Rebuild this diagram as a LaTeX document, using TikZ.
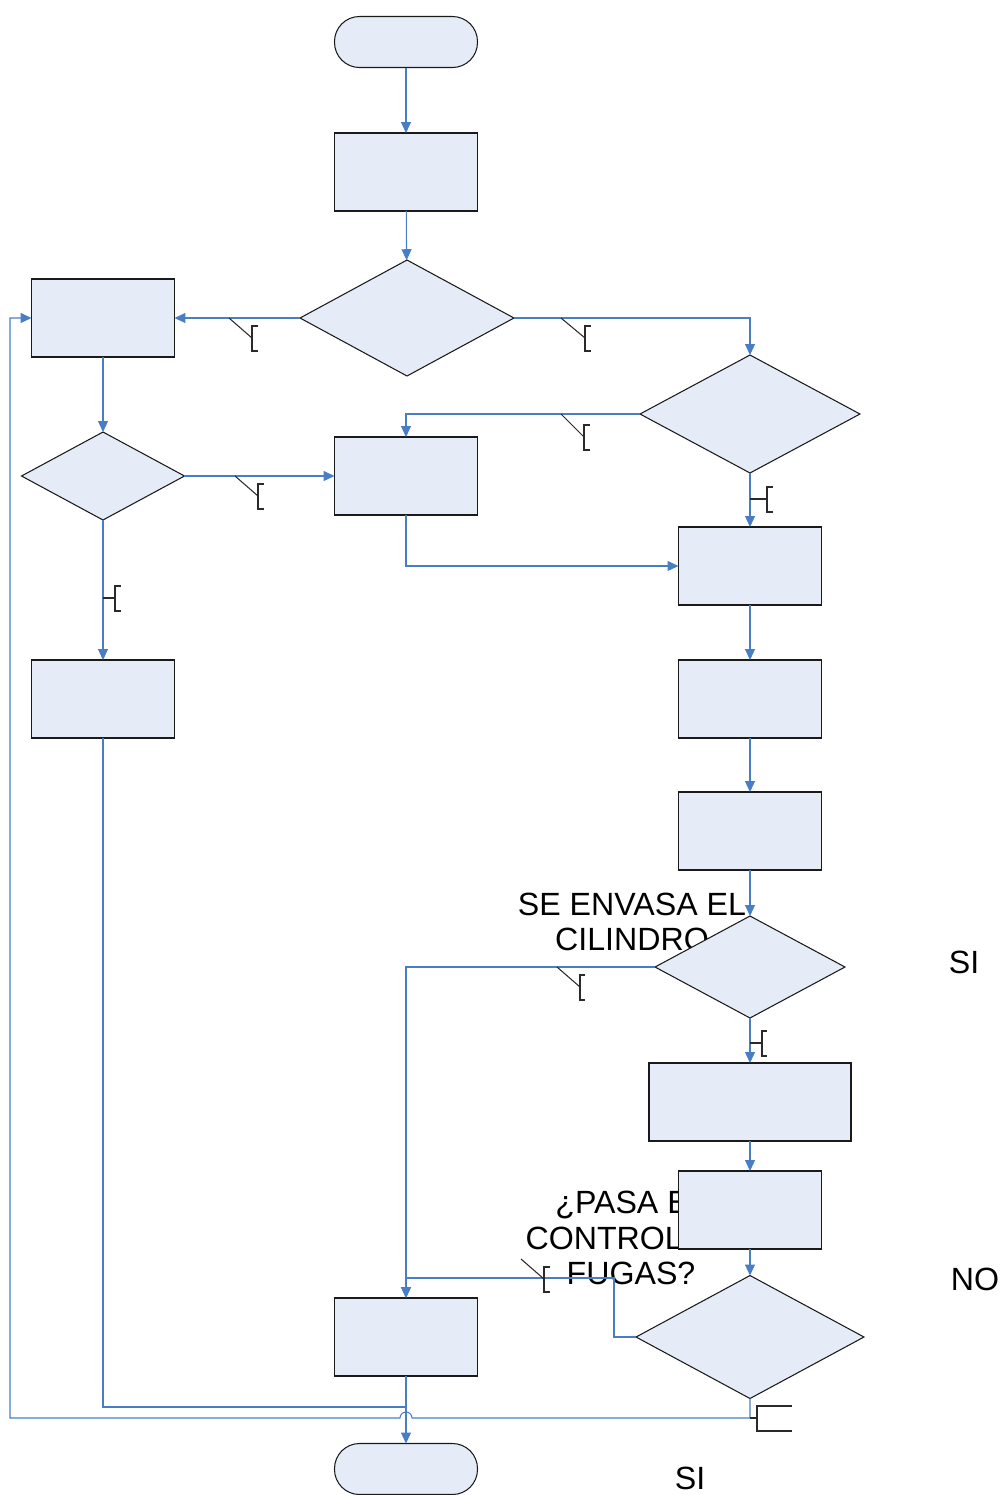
\documentclass[tikz,border=0pt]{standalone}
\usepackage{fontspec}
\setmainfont{Liberation Sans}
\usepackage{tikz}
\usetikzlibrary{
  arrows.meta,
  shapes,
  shapes.geometric,
  positioning,
  calc
}
\definecolor{fcFill}{HTML}{E6ECF7}
\definecolor{fcLine}{HTML}{4A7EC4}
\definecolor{fcEdge}{HTML}{1A1A1A}
\definecolor{fcTag}{HTML}{2A2A2A}
\tikzset{
  fcnode/.style={
    draw=fcEdge, fill=fcFill, line width=0.6pt, inner sep=0pt, outer sep=0pt
  },
  fcbox/.style={fcnode, rectangle, minimum width=2.86cm, minimum height=1.56cm},
  fcwide/.style={fcbox, minimum width=4.04cm},
  fcterm/.style={fcnode, rectangle, rounded corners=0.5cm, minimum width=2.86cm, minimum height=1.02cm},
  fcdec/.style={fcnode, diamond},
  flow/.style={-{Triangle[length=2.2mm, width=2mm]}, line width=0.6pt, fcLine},
  flowline/.style={line width=0.6pt, fcLine},
  tagline/.style={line width=0.6pt, fcTag},
  fctext/.style={font=\fontsize{18.3}{20}\selectfont, align=center, inner sep=0pt}
}
\begin{document}
\begin{tikzpicture}[x=0.02cm, y=-0.02cm]
  \useasboundingbox (0,0) rectangle (1002,1495);

  % textos sueltos (quedan por debajo de las figuras)
  \node[fctext] (tEnvasa) at (632,922) {SE ENVASA EL\\CILINDRO};
  \node[fctext] (tFugas) at (631,1238) {¿PASA EL\\CONTROL DE\\FUGAS?};
  \node[fctext] (tSi1) at (964,962) {SI};
  \node[fctext] (tNo) at (975,1279) {NO};
  \node[fctext] (tSi2) at (690,1478) {SI};

  % figuras
  \node[fcterm] (inicio) at (406,42) {};
  \node[fcbox] (paso1) at (406,172) {};
  \node[fcdec, minimum width=4.28cm, minimum height=2.32cm] (dec1) at (407,318) {};
  \node[fcbox] (izq1) at (103,318) {};
  \node[fcdec, minimum width=4.4cm, minimum height=2.36cm] (dec2) at (750,414) {};
  \node[fcdec, minimum width=3.26cm, minimum height=1.76cm] (dec3) at (103,476) {};
  \node[fcbox] (centro) at (406,476) {};
  \node[fcbox] (der1) at (750,566) {};
  \node[fcbox] (izq2) at (103,699) {};
  \node[fcbox] (der2) at (750,699) {};
  \node[fcbox] (der3) at (750,831) {};
  \node[fcdec, minimum width=3.8cm, minimum height=2.04cm] (dec4) at (750,967) {};
  \node[fcwide] (der4) at (750,1102) {};
  \node[fcbox] (der5) at (750,1210) {};
  \node[fcdec, minimum width=4.56cm, minimum height=2.46cm] (dec5) at (750,1337) {};
  \node[fcbox] (abajo) at (406,1337) {};
  \node[fcterm] (fin) at (406,1469) {};

  \coordinate (cFugas) at (614,1278);
  \coordinate (cUnion) at (406,1407);
  \coordinate (cVuelta) at (750,1418);
  \coordinate (cBorde) at (10,1418);

  % conectores
  \draw[flow] (inicio) -- (paso1);
  \draw[flow] (paso1) -- (dec1);
  \draw[flow] (dec1.west) -- (izq1.east);
  \draw[flow] (dec1.east) -| (dec2.north);
  \draw[flow] (dec2.west) -| (centro.north);
  \draw[flow] (izq1) -- (dec3);
  \draw[flow] (dec3.east) -- (centro.west);
  \draw[flow] (dec3.south) -- (izq2.north);
  \draw[flow] (dec2.south) -- (der1.north);
  \draw[flow] (centro.south) |- (der1.west);
  \foreach \a/\b in {der1/der2, der2/der3, der3/dec4, dec4/der4, der4/der5, der5/dec5}
    \draw[flow] (\a) -- (\b);
  \draw[flow] (dec4.west) -| (abajo.north);
  \draw[flow] (dec5.west) -| (cFugas) -| (abajo.north);
  \draw[flowline] (izq2.south) |- (cUnion);
  \draw[flow] (abajo.south) -- (fin.north);
  \draw[flow] (dec5.south) -- (cVuelta) -- (412,1418)
    arc[start angle=0, end angle=-180, radius=6] -- (cBorde) |- (izq1.west);

  % marcas de etiqueta
  \foreach \ax/\ay/\bx/\by/\w in {229/318/252/338/6, 561/318/585/338/6,
      561/414/584/437/6, 235/476/258/496/6, 103/598/115/598/6,
      750/499/767/499/6, 557/967/580/987/5, 750/1043/762/1043/5,
      521/1259/544/1279/6, 750/1418/757/1418/35}{
    \draw[tagline] (\ax,\ay) -- (\bx,\by);
    \draw[tagline] (\bx+\w,\by-12) -- (\bx,\by-12) -- (\bx,\by+13) -- (\bx+\w,\by+13);
  }
\end{tikzpicture}
\end{document}
